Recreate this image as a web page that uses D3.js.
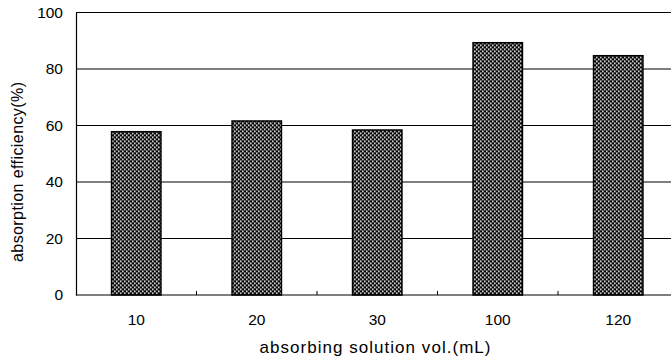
<!DOCTYPE html>
<html>
<head>
<meta charset="utf-8">
<script src="https://cdn.jsdelivr.net/npm/d3@7"></script>
<style>
  body { margin: 0; background: #fff; }
  svg text { font-family: "Liberation Sans", Arial, sans-serif; fill: #000; }
</style>
</head>
<body>
<div id="chart"></div>
<script>
// values
const volumes = ['10', '20', '30', '100', '120'];
const efficiency = [57.8, 61.6, 58.4, 89.3, 84.7];
const yTicks = [0, 20, 40, 60, 80, 100];

const width = 671, height = 360;
const margin = {top: 12.5, right: -7.5, bottom: 65, left: 76};
const plotW = width - margin.left - margin.right;
const plotH = height - margin.top - margin.bottom;

const svg = d3.select('#chart').append('svg')
  .attr('width', width)
  .attr('height', height);

// dense checker fill like the scanned bars
const defs = svg.append('defs');
const pat = defs.append('pattern')
  .attr('id', 'hatch')
  .attr('patternUnits', 'userSpaceOnUse')
  .attr('width', 4).attr('height', 4);
pat.append('rect').attr('width', 4).attr('height', 4).attr('fill', '#000');
pat.append('rect').attr('x', 0).attr('y', 0).attr('width', 1.6).attr('height', 1.6).attr('fill', '#fff');
pat.append('rect').attr('x', 2).attr('y', 2).attr('width', 1.6).attr('height', 1.6).attr('fill', '#fff');

const g = svg.append('g')
  .attr('transform', 'translate(' + margin.left + ',' + margin.top + ')');

const x = d3.scaleBand()
  .domain(volumes)
  .range([0, plotW])
  .paddingInner(0.59)
  .paddingOuter(0.295);

const xCat = d3.scaleBand().domain(volumes).range([0, plotW]);

const y = d3.scaleLinear().domain([0, 100]).range([plotH, 0]);

// gridlines
g.selectAll('.grid')
  .data(yTicks.filter(d => d > 0))
  .enter().append('line')
  .attr('class', 'grid')
  .attr('x1', 0).attr('x2', plotW)
  .attr('y1', d => y(d)).attr('y2', d => y(d))
  .attr('stroke', '#000').attr('stroke-width', 1.1);

// bars
g.selectAll('.bar')
  .data(efficiency)
  .enter().append('rect')
  .attr('class', 'bar')
  .attr('x', (d, i) => x(volumes[i]))
  .attr('width', x.bandwidth())
  .attr('y', d => y(d))
  .attr('height', d => plotH - y(d))
  .attr('fill', 'url(#hatch)')
  .attr('stroke', '#000')
  .attr('stroke-width', 1.5);

// y axis
const yAxis = d3.axisLeft(y).tickValues(yTicks).tickSize(0).tickPadding(13);
const yg = g.append('g').call(yAxis);
yg.select('.domain').attr('stroke', '#000').attr('stroke-width', 1.2);
yg.selectAll('text').style('font-size', '15.5px');

// x axis with small inward ticks at category boundaries
g.append('line')
  .attr('x1', 0).attr('x2', plotW)
  .attr('y1', plotH).attr('y2', plotH)
  .attr('stroke', '#000').attr('stroke-width', 1.2);

g.selectAll('.xtick')
  .data(volumes.slice(1))
  .enter().append('line')
  .attr('class', 'xtick')
  .attr('x1', d => xCat(d)).attr('x2', d => xCat(d))
  .attr('y1', plotH).attr('y2', plotH - 4)
  .attr('stroke', '#000').attr('stroke-width', 1);

g.selectAll('.xlabel')
  .data(volumes)
  .enter().append('text')
  .attr('class', 'xlabel')
  .attr('x', d => xCat(d) + xCat.bandwidth() / 2)
  .attr('y', plotH + 30)
  .attr('text-anchor', 'middle')
  .style('font-size', '15.5px')
  .text(d => d);

// axis titles
svg.append('text')
  .attr('x', 375)
  .attr('y', 353)
  .attr('text-anchor', 'middle')
  .attr('textLength', 231)
  .attr('lengthAdjust', 'spacing')
  .style('font-size', '17px')
  .text('absorbing solution vol.(mL)');

svg.append('text')
  .attr('transform', 'translate(23,172) rotate(-90)')
  .attr('text-anchor', 'middle')
  .attr('textLength', 180)
  .attr('lengthAdjust', 'spacing')
  .style('font-size', '16px')
  .text('absorption efficiency(%)');
</script>
</body>
</html>
